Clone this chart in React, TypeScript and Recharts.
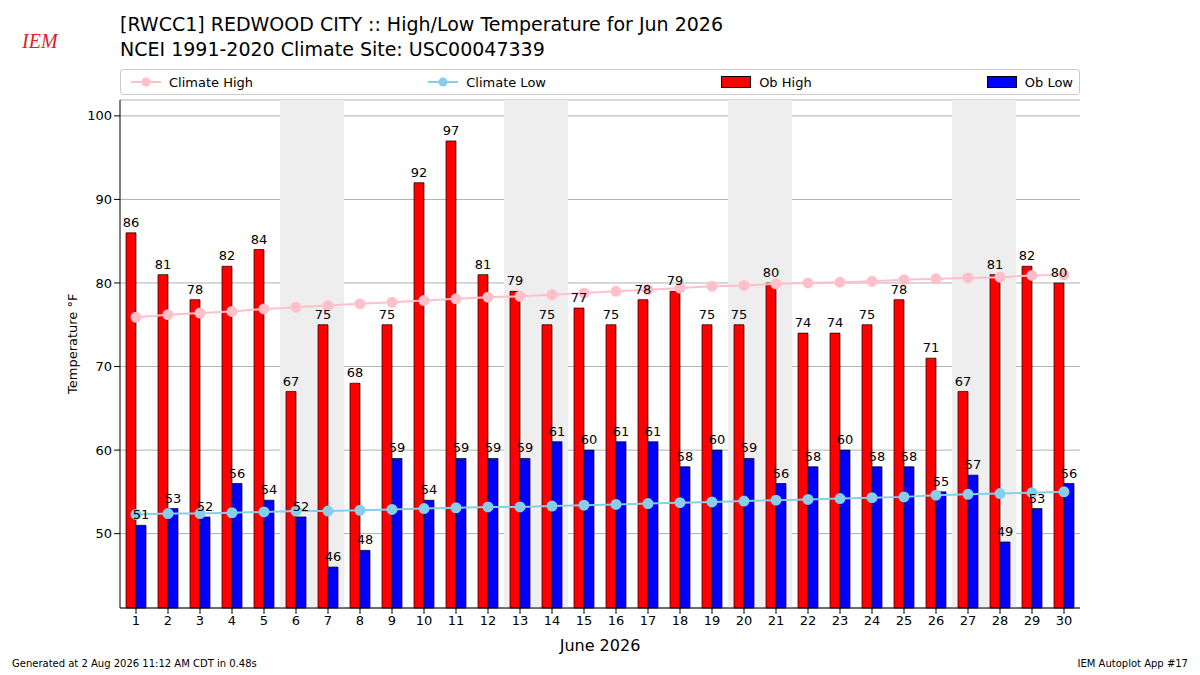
import React from 'react';
import { ComposedChart, Bar, Line, XAxis, YAxis, CartesianGrid, ReferenceArea, LabelList } from 'recharts';

const days = Array.from({ length: 30 }, (_, i) => i + 1);
const obHigh = [86, 81, 78, 82, 84, 67, 75, 68, 75, 92, 97, 81, 79, 75, 77, 75, 78, 79, 75, 75, 80, 74, 74, 75, 78, 71, 67, 81, 82, 80];
const obLow = [51, 53, 52, 56, 54, 52, 46, 48, 59, 54, 59, 59, 59, 61, 60, 61, 61, 58, 60, 59, 56, 58, 60, 58, 58, 55, 57, 49, 53, 56];
const climHigh = [75.9, 76.2, 76.4, 76.6, 76.9, 77.1, 77.3, 77.5, 77.7, 77.9, 78.1, 78.3, 78.4, 78.6, 78.8, 79.0, 79.2, 79.4, 79.6, 79.7, 79.9, 80.0, 80.1, 80.2, 80.4, 80.5, 80.6, 80.7, 80.9, 81.0];
const climLow = [52.3, 52.4, 52.4, 52.5, 52.6, 52.7, 52.7, 52.8, 52.9, 53.0, 53.1, 53.2, 53.2, 53.3, 53.4, 53.5, 53.6, 53.7, 53.8, 53.9, 54.0, 54.1, 54.2, 54.3, 54.4, 54.6, 54.7, 54.8, 54.9, 55.0];
const weekends = [[6, 7], [13, 14], [20, 21], [27, 28]];
const yTicks = [50, 60, 70, 80, 90, 100];

const data = days.map((d, i) => ({ day: d, hi: obHigh[i], lo: obLow[i], chi: climHigh[i], clo: climLow[i] }));

const font = 'DejaVu Sans, sans-serif';

const LegendItem = ({ kind, color, label }: { kind: 'line' | 'bar'; color: string; label: string }) => (
  <div style={{ display: 'flex', alignItems: 'center', gap: 8 }}>
    {kind === 'line' ? (
      <svg width={30} height={12}>
        <line x1={0} y1={6} x2={30} y2={6} stroke={color} strokeWidth={2} />
        <circle cx={15} cy={6} r={4.5} fill={color} />
      </svg>
    ) : (
      <div style={{ width: 28, height: 10, background: color, border: '1px solid #000' }} />
    )}
    <span>{label}</span>
  </div>
);

export default function App() {
  return (
    <div style={{ position: 'absolute', left: 0, top: 0, width: 1200, height: 675, background: '#fff', fontFamily: font }}>
      <div style={{ position: 'absolute', left: 10, top: 6, width: 68, height: 50, color: '#d22', fontFamily: 'serif', fontSize: 20, fontStyle: 'italic', paddingTop: 24, boxSizing: 'border-box', paddingLeft: 12 }}>IEM</div>
      <div style={{ position: 'absolute', left: 120, top: 12, fontSize: 19, lineHeight: '25px' }}>
        [RWCC1] REDWOOD CITY :: High/Low Temperature for Jun 2026<br />NCEI 1991-2020 Climate Site: USC00047339
      </div>
      <div style={{ position: 'absolute', left: 120, top: 69, width: 960, height: 26, border: '1px solid #ccc', borderRadius: 3, display: 'flex', justifyContent: 'space-between', alignItems: 'center', padding: '0 6px 0 10px', boxSizing: 'border-box', fontSize: 13 }}>
        <LegendItem kind="line" color="pink" label="Climate High" />
        <LegendItem kind="line" color="skyblue" label="Climate Low" />
        <LegendItem kind="bar" color="red" label="Ob High" />
        <LegendItem kind="bar" color="blue" label="Ob Low" />
      </div>
      <div style={{ position: 'absolute', left: 0, top: 0 }}>
        <ComposedChart width={1200} height={675} data={data} margin={{ top: 100, right: 120, bottom: 20, left: 60 }} barGap={0}>
          {weekends.map(([a, b]) => (
            <ReferenceArea key={a} x1={a - 0.5} x2={b + 0.5} y1={41.1} y2={101.9} fill="#eee" fillOpacity={1} stroke="none" />
          ))}
          <CartesianGrid vertical={false} stroke="#b0b0b0" />
          <XAxis dataKey="day" type="number" height={47} domain={[0.5, 30.5]} ticks={days} interval={0} tick={{ fill: '#000', fontSize: 13, fontFamily: font }} tickLine={{ stroke: '#000' }} axisLine={{ stroke: '#000' }}
            label={{ value: 'June 2026', position: 'insideBottom', offset: 4, fontSize: 16, fill: '#000', fontFamily: font }} />
          <YAxis width={60} domain={[41.1, 101.9]} ticks={yTicks} tick={{ fill: '#000', fontSize: 13, fontFamily: font }} tickLine={{ stroke: '#000' }} axisLine={{ stroke: '#000' }}
            label={{ value: 'Temperature °F', angle: -90, position: 'insideLeft', offset: 12, dy: 40, fontSize: 13, fill: '#000', fontFamily: font }} />
          <Bar dataKey="hi" fill="red" stroke="#000" strokeWidth={0.7} barSize={10} isAnimationActive={false}>
            <LabelList dataKey="hi" position="top" fill="#000" fontSize={13} fontFamily={font} offset={6} />
          </Bar>
          <Bar dataKey="lo" fill="blue" stroke="#000" strokeWidth={0.7} barSize={10} isAnimationActive={false}>
            <LabelList dataKey="lo" position="top" fill="#000" fontSize={13} fontFamily={font} offset={6} />
          </Bar>
          <Line dataKey="chi" stroke="pink" strokeWidth={2} dot={{ r: 4.5, fill: 'pink', stroke: 'pink' }} isAnimationActive={false} />
          <Line dataKey="clo" stroke="skyblue" strokeWidth={2} dot={{ r: 4.5, fill: 'skyblue', stroke: 'skyblue' }} isAnimationActive={false} />
        </ComposedChart>
      </div>
      <div style={{ position: 'absolute', left: 12, top: 658, fontSize: 10 }}>Generated at 2 Aug 2026 11:12 AM CDT in 0.48s</div>
      <div style={{ position: 'absolute', right: 12, top: 658, fontSize: 10 }}>IEM Autoplot App #17</div>
    </div>
  );
}
